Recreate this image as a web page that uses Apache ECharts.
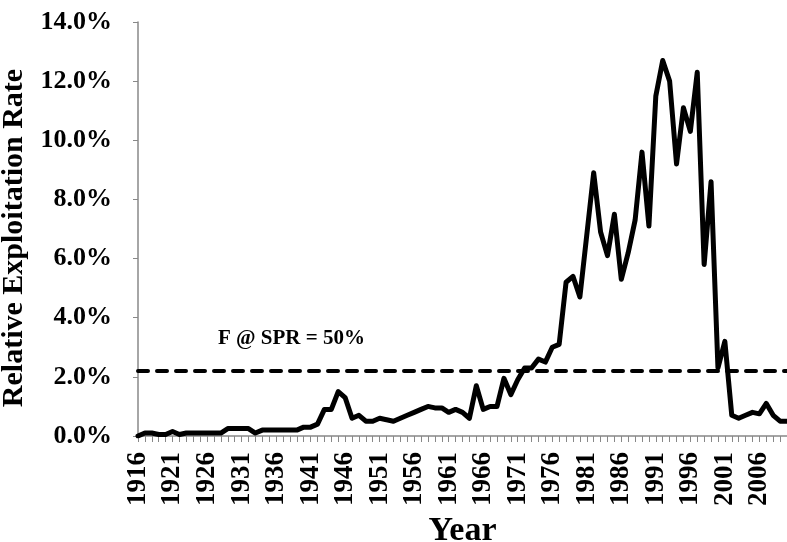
<!DOCTYPE html>
<html>
<head>
<meta charset="utf-8">
<script src="https://cdn.jsdelivr.net/npm/echarts@6/dist/echarts.min.js"></script>
<style>
html, body { margin: 0; padding: 0; background: #fff; }
#chart { width: 787px; height: 542px; }
</style>
</head>
<body>
<div id="chart"></div>
<script>
// years on the category axis
var years = [1916, 1917, 1918, 1919, 1920, 1921, 1922, 1923, 1924, 1925,
    1926, 1927, 1928, 1929, 1930, 1931, 1932, 1933, 1934, 1935,
    1936, 1937, 1938, 1939, 1940, 1941, 1942, 1943, 1944, 1945,
    1946, 1947, 1948, 1949, 1950, 1951, 1952, 1953, 1954, 1955,
    1956, 1957, 1958, 1959, 1960, 1961, 1962, 1963, 1964, 1965,
    1966, 1967, 1968, 1969, 1970, 1971, 1972, 1973, 1974, 1975,
    1976, 1977, 1978, 1979, 1980, 1981, 1982, 1983, 1984, 1985,
    1986, 1987, 1988, 1989, 1990, 1991, 1992, 1993, 1994, 1995,
    1996, 1997, 1998, 1999, 2000, 2001, 2002, 2003, 2004, 2005,
    2006, 2007, 2008, 2009, 2010];

// relative exploitation rate, in percent
var exploitRate = [0.0, 0.1, 0.1, 0.05, 0.05, 0.15, 0.05, 0.1, 0.1, 0.1,
    0.1, 0.1, 0.1, 0.25, 0.25, 0.25, 0.25, 0.1, 0.2, 0.2,
    0.2, 0.2, 0.2, 0.2, 0.3, 0.3, 0.4, 0.9, 0.9, 1.5,
    1.3, 0.6, 0.7, 0.5, 0.5, 0.6, 0.55, 0.5, 0.6, 0.7,
    0.8, 0.9, 1.0, 0.95, 0.95, 0.8, 0.9, 0.8, 0.6, 1.7,
    0.9, 1.0, 1.0, 1.95, 1.4, 1.9, 2.3, 2.3, 2.6, 2.5,
    3.0, 3.1, 5.2, 5.4, 4.7, 6.8, 8.9, 6.9, 6.1, 7.5,
    5.3, 6.2, 7.3, 9.6, 7.1, 11.5, 12.7, 12.0, 9.2, 11.1,
    10.3, 12.3, 5.8, 8.6, 2.3, 3.2, 0.7, 0.6, 0.7, 0.8,
    0.75, 1.1, 0.7, 0.5, 0.5];

// reference level F @ SPR = 50%
var refLevel = 2.2;
var refLabel = 'F @ SPR = 50%';

var yTicks = { min: 0, max: 14, interval: 2 };

var font = 'Liberation Serif';
var axisGrey = '#888888';

var myChart = echarts.init(document.getElementById('chart'));
var option = {
    backgroundColor: '#ffffff',
    animation: false,
    grid: {
        left: 138,
        right: 0,
        top: 22,
        bottom: 106,
        outerBoundsMode: 'none'
    },
    xAxis: {
        type: 'category',
        data: years,
        boundaryGap: false,
        name: 'Year',
        nameLocation: 'middle',
        nameGap: 74,
        nameTextStyle: {
            fontFamily: font,
            fontWeight: 'bold',
            fontSize: 34,
            color: '#000'
        },
        axisLine: {
            lineStyle: { color: axisGrey, width: 1.5 }
        },
        axisTick: {
            show: true,
            interval: 0,
            length: 6,
            lineStyle: { color: axisGrey }
        },
        axisLabel: {
            interval: 4,
            rotate: 90,
            margin: 16,
            fontFamily: font,
            fontWeight: 'bold',
            fontSize: 27,
            color: '#000'
        },
        splitLine: { show: false }
    },
    yAxis: {
        type: 'value',
        min: yTicks.min,
        max: yTicks.max,
        interval: yTicks.interval,
        name: 'Relative Exploitation Rate',
        nameLocation: 'middle',
        nameGap: 90,
        nameTextStyle: {
            fontFamily: font,
            fontWeight: 'bold',
            fontSize: 30,
            color: '#000',
            padding: [0, 18, 0, 0]
        },
        axisLine: {
            show: true,
            lineStyle: { color: axisGrey, width: 1.5 }
        },
        axisTick: {
            show: true,
            length: 5,
            lineStyle: { color: axisGrey }
        },
        axisLabel: {
            margin: 26,
            fontFamily: font,
            fontWeight: 'bold',
            fontSize: 26,
            color: '#000',
            formatter: function (v) {
                return v.toFixed(1) + '%';
            }
        },
        splitLine: { show: false }
    },
    graphic: [{
        type: 'text',
        left: 218,
        top: 328,
        style: {
            text: refLabel,
            fontFamily: font,
            fontWeight: 'bold',
            fontSize: 21,
            fill: '#000'
        }
    }],
    series: [{
        name: 'Relative Exploitation Rate',
        type: 'line',
        data: exploitRate,
        showSymbol: false,
        symbol: 'none',
        lineStyle: {
            color: '#000',
            width: 5,
            join: 'round',
            cap: 'round'
        },
        markLine: {
            silent: true,
            symbol: 'none',
            label: { show: false },
            lineStyle: {
                color: '#000',
                width: 4,
                type: [10, 9],
                cap: 'round'
            },
            data: [{ yAxis: refLevel }]
        }
    }]
};
myChart.setOption(option);
</script>
</body>
</html>
